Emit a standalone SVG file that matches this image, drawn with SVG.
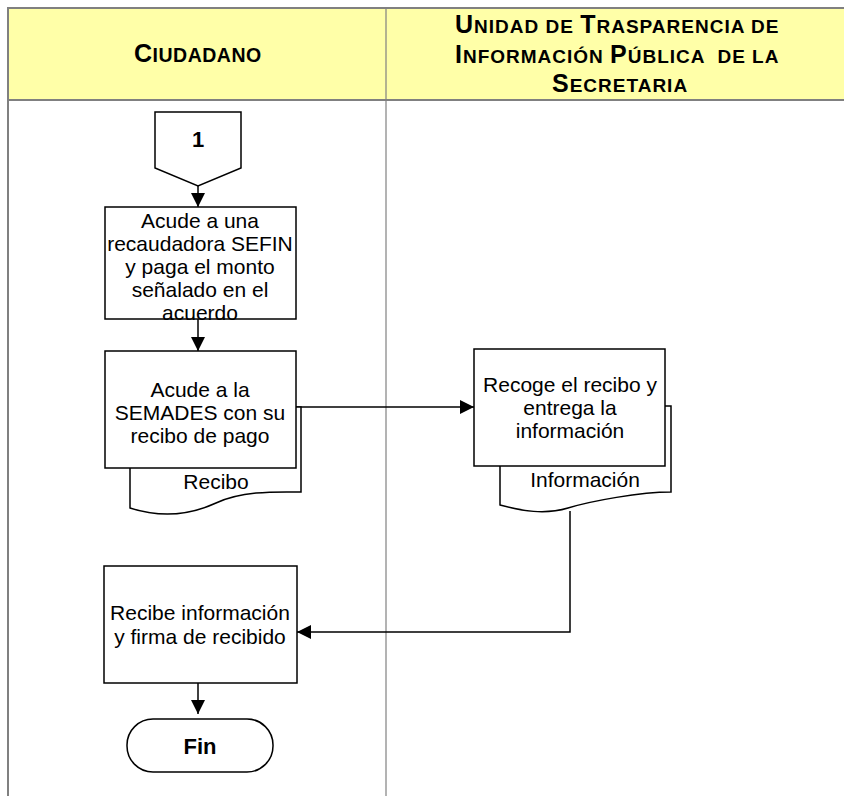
<svg xmlns="http://www.w3.org/2000/svg" width="844" height="796" viewBox="0 0 844 796">
<style>
.hdr{fill:#FFFFA8;stroke:none}
.lane{stroke:#808080;fill:none}
.box{fill:#fff;stroke:#000;stroke-width:1.5}
.doc{fill:#fff;stroke:#000;stroke-width:1.5}
.conn{fill:none;stroke:#000;stroke-width:1.5}
.t{font-family:"Liberation Sans",Arial,sans-serif;font-size:21px;fill:#000;text-anchor:middle}
.b{font-weight:bold;font-size:22px}
.h{font-family:"Liberation Sans",Arial,sans-serif;font-weight:bold;fill:#000;font-size:19px;letter-spacing:1px;white-space:pre}
.cap{font-size:25px}
</style>
<defs>
<marker id="ah" viewBox="0 0 14 14" refX="14" refY="7" markerWidth="14" markerHeight="14" markerUnits="userSpaceOnUse" orient="auto">
<path d="M0,0 L14,7 L0,14 Z" fill="#000"/>
</marker>
</defs>
<rect width="844" height="796" fill="#fff"/>
<g id="header">
<rect class="hdr" x="8" y="8" width="836" height="92"/>
<line class="lane" x1="8" y1="8" x2="844" y2="8" stroke-width="2"/>
<line class="lane" x1="8" y1="100" x2="844" y2="100" stroke-width="2"/>
<line class="lane" x1="8" y1="7" x2="8" y2="796" stroke-width="2"/>
<line class="lane" x1="386" y1="8" x2="386" y2="796" stroke-width="1.2"/>
<text class="h" x="134" y="62" style="font-size:19.5px;letter-spacing:0.5px"><tspan style="font-size:25px">C</tspan>IUDADANO</text>
<text class="h" x="455" y="33" xml:space="preserve"><tspan class="cap">U</tspan>NIDAD DE <tspan class="cap">T</tspan>RASPARENCIA DE</text>
<text class="h" x="455" y="63" xml:space="preserve"><tspan class="cap">I</tspan>NFORMACIÓN <tspan class="cap">P</tspan>ÚBLICA  DE LA</text>
<text class="h" x="552" y="92"><tspan class="cap">S</tspan>ECRETARIA</text>
</g>
<g id="connectors">
<line class="conn" x1="198" y1="186" x2="198" y2="207" marker-end="url(#ah)"/>
<line class="conn" x1="198" y1="319" x2="198" y2="351" marker-end="url(#ah)"/>
<polyline class="conn" points="296,407 301,407 474,407" marker-end="url(#ah)"/>
<polyline class="conn" points="570,511 570,632 297,632" marker-end="url(#ah)"/>
<line class="conn" x1="198" y1="683" x2="198" y2="714" marker-end="url(#ah)"/>
</g>
<g id="n-connector1">
<path class="box" d="M155,112 L241,112 L241,168 L198,186 L155,168 Z"/>
<text class="t b" x="198" y="147">1</text>
</g>
<g id="n-pago">
<rect class="box" x="105" y="207" width="191" height="112"/>
<text class="t"><tspan x="200" y="228">Acude a una</tspan><tspan x="200" y="251">recaudadora SEFIN</tspan><tspan x="200" y="274">y paga el monto</tspan><tspan x="200" y="297">señalado en el</tspan><tspan x="200" y="320">acuerdo</tspan></text>
</g>
<g id="n-semades">
<path class="doc" d="M130,440 L130,508 C158,517 188,516 216,503 S280,492 301,492 L301,407 L280,407"/>
<rect class="box" x="105" y="351" width="191" height="117"/>
<text class="t"><tspan x="200" y="397">Acude a la</tspan><tspan x="200" y="420">SEMADES con su</tspan><tspan x="200" y="443">recibo de pago</tspan></text>
<text class="t" x="216" y="489">Recibo</text>
</g>
<g id="n-recoge">
<path class="doc" d="M500,440 L500,505 C522,511 545,515 568,508 S640,492 671,492 L671,406 L650,406"/>
<rect class="box" x="474" y="349" width="191" height="117"/>
<text class="t"><tspan x="570" y="392">Recoge el recibo y</tspan><tspan x="570" y="415">entrega la</tspan><tspan x="570" y="438">información</tspan></text>
<text class="t" x="585" y="487">Información</text>
</g>
<g id="n-recibe">
<rect class="box" x="104" y="566" width="193" height="117"/>
<text class="t"><tspan x="200" y="620">Recibe información</tspan><tspan x="200" y="644">y firma de recibido</tspan></text>
</g>
<g id="n-fin">
<rect class="box" x="127" y="719" width="146" height="53" rx="26" ry="26"/>
<text class="t b" x="200" y="754">Fin</text>
</g>
</svg>
